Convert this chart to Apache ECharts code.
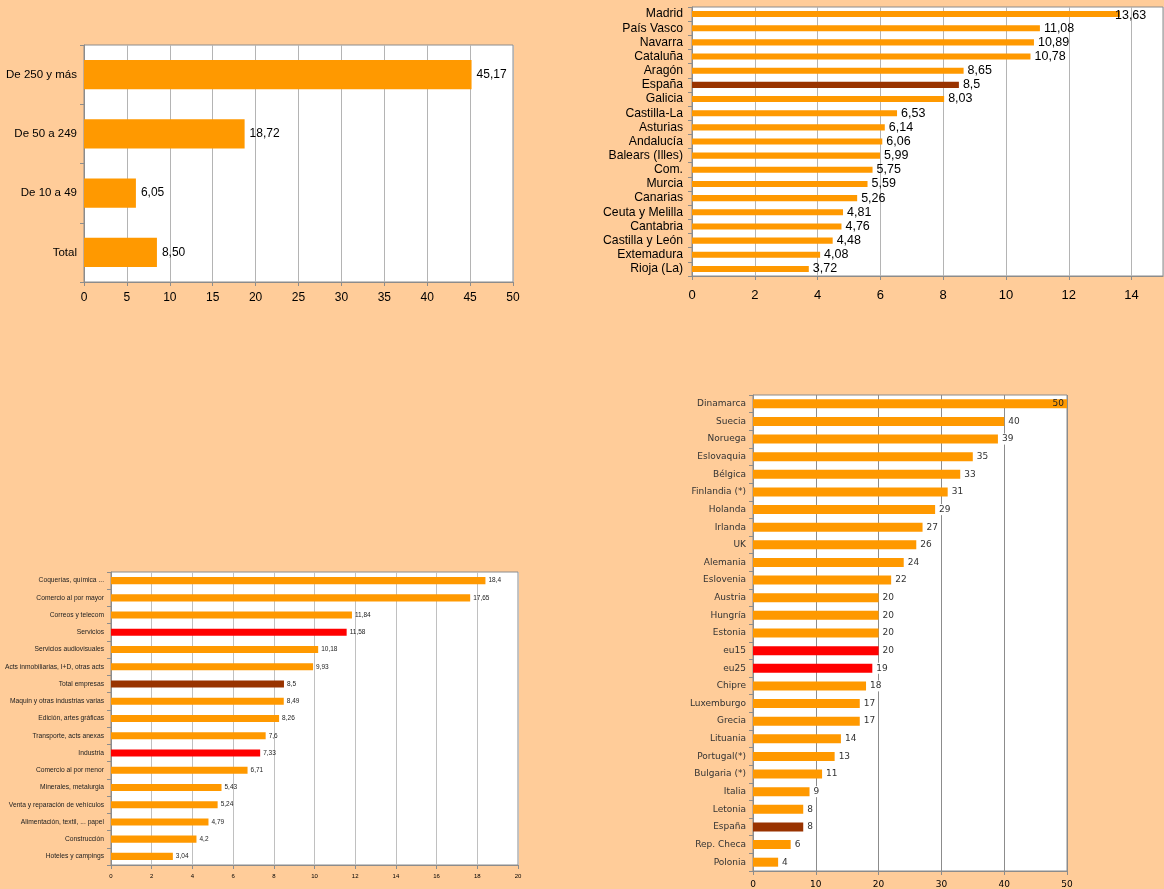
<!DOCTYPE html>
<html>
<head>
<meta charset="utf-8">
<script src="https://cdn.jsdelivr.net/npm/echarts@6/dist/echarts.min.js"></script>
<style>
html,body{margin:0;padding:0;background:#FFCC99;}
#c{width:1164px;height:889px;}
</style>
</head>
<body>
<div id="c"></div>
<script>
// Chart 1: by company size
const sizeCats = ['De 250 y más', 'De 50 a 249', 'De 10 a 49', 'Total'];
const sizeVals = [45.17, 18.72, 6.05, 8.50];

// Chart 2: by region
const regionCats = ['Madrid','País Vasco','Navarra','Cataluña','Aragón','España','Galicia','Castilla-La','Asturias','Andalucía','Balears (Illes)','Com.','Murcia','Canarias','Ceuta y Melilla','Cantabria','Castilla y León','Extemadura','Rioja (La)'];
const regionVals = [13.63,11.08,10.89,10.78,8.65,8.5,8.03,6.53,6.14,6.06,5.99,5.75,5.59,5.26,4.81,4.76,4.48,4.08,3.72];
const regionHighlight = ['España'];

// Chart 3: by sector
const sectorCats = ['Coquerías, química ...','Comercio al por mayor','Correos y telecom','Servicios','Servicios audiovisuales','Acts inmobiliarias, I+D, otras acts','Total empresas','Maquin y otras industrias varias','Edición, artes gráficas','Transporte, acts anexas','Industria','Comercio al por menor','Minerales, metalurgia','Venta y reparación de vehículos','Alimentación, textil, ... papel','Construcción','Hoteles y campings'];
const sectorVals = [18.4,17.65,11.84,11.58,10.18,9.93,8.5,8.49,8.26,7.6,7.33,6.71,5.43,5.24,4.79,4.2,3.04];
const sectorRed = ['Servicios','Industria'];
const sectorDark = ['Total empresas'];

// Chart 4: by country
const countryCats = ['Dinamarca','Suecia','Noruega','Eslovaquia','Bélgica','Finlandia (*)','Holanda','Irlanda','UK','Alemania','Eslovenia','Austria','Hungría','Estonia','eu15','eu25','Chipre','Luxemburgo','Grecia','Lituania','Portugal(*)','Bulgaria (*)','Italia','Letonia','España','Rep. Checa','Polonia'];
const countryVals = [50,40,39,35,33,31,29,27,26,24,22,20,20,20,20,19,18,17,17,14,13,11,9,8,8,6,4];
const countryRed = ['eu15','eu25'];
const countryDark = ['España'];

const ORANGE = '#FF9900', DARK = '#993300', RED = '#FF0000';
const comma = v => String(v).replace('.', ',');

function colorFor(cat, reds, darks) {
  if (darks.includes(cat)) return DARK;
  if (reds.includes(cat)) return RED;
  return ORANGE;
}

const chart = echarts.init(document.getElementById('c'), null, {renderer: 'canvas'});

const gridBase = {show: true, backgroundColor: '#FFFFFF', borderColor: '#8C8C8C', borderWidth: 1, containLabel: false};

function xAx(idx, max, interval, fs, margin, gridColor, font) {
  return {
    type: 'value', gridIndex: idx, min: 0, max: max, interval: interval,
    axisLine: {show: true, lineStyle: {color: '#8C8C8C'}},
    axisTick: {show: true, length: 4, lineStyle: {color: '#8C8C8C'}},
    splitLine: {show: true, lineStyle: {color: gridColor, width: 1}},
    axisLabel: {fontSize: fs, color: '#000', margin: margin, fontFamily: font, showMaxLabel: max % interval === 0}
  };
}
function yAx(idx, cats, fs, margin, font, color) {
  return {
    type: 'category', gridIndex: idx, data: cats, inverse: true,
    axisLine: {show: true, lineStyle: {color: '#8C8C8C'}},
    axisTick: {show: true, length: 4, alignWithLabel: false, lineStyle: {color: '#8C8C8C'}},
    splitLine: {show: false},
    axisLabel: {fontSize: fs, color: color, margin: margin, fontFamily: font, interval: 0}
  };
}

const option = {
  backgroundColor: '#FFCC99',
  animation: false,
  grid: [
    Object.assign({left: 84, top: 45, width: 429, height: 237}, gridBase),
    Object.assign({left: 692, top: 7, width: 471, height: 269}, gridBase),
    Object.assign({left: 111, top: 572, width: 407, height: 293}, gridBase),
    Object.assign({left: 753, top: 395, width: 314, height: 476}, gridBase)
  ],
  xAxis: [
    xAx(0, 50, 5, 12, 10, '#B4B4B4', 'Liberation Sans, Arial'),
    xAx(1, 15, 2, 13, 13, '#B4B4B4', 'Liberation Sans, Arial'),
    xAx(2, 20, 2, 6, 8, '#C0C0C0', 'Liberation Sans, Arial'),
    xAx(3, 50, 10, 9, 9, '#8C8C8C', 'DejaVu Sans, Verdana')
  ],
  yAxis: [
    yAx(0, sizeCats, 11.5, 7, 'Liberation Sans, Arial', '#000'),
    yAx(1, regionCats, 12.2, 9, 'Liberation Sans, Arial', '#000'),
    yAx(2, sectorCats, 6.7, 7, 'Liberation Sans, Arial', '#222'),
    yAx(3, countryCats, 9, 7, 'DejaVu Sans, Verdana', '#333')
  ],
  series: [
    {
      type: 'bar', xAxisIndex: 0, yAxisIndex: 0, barCategoryGap: '51%',
      data: sizeVals.map(v => ({value: v, itemStyle: {color: ORANGE}})),
      label: {show: true, position: 'right', distance: 5, fontSize: 12, color: '#000', fontFamily: 'Liberation Sans, Arial',
        formatter: p => p.value.toFixed(2).replace('.', ',')}
    },
    {
      type: 'bar', xAxisIndex: 1, yAxisIndex: 1, barCategoryGap: '57%',
      data: regionVals.map((v, i) => ({
        value: v,
        itemStyle: {color: colorFor(regionCats[i], [], regionHighlight)},
        label: i === 0 ? {offset: [-9, 1]} : {}
      })),
      label: {show: true, position: 'right', distance: 4, fontSize: 12.5, color: '#000', fontFamily: 'Liberation Sans, Arial',
        formatter: p => comma(p.value)}
    },
    {
      type: 'bar', xAxisIndex: 2, yAxisIndex: 2, barCategoryGap: '59%',
      data: sectorVals.map((v, i) => ({value: v, itemStyle: {color: colorFor(sectorCats[i], sectorRed, sectorDark)}})),
      label: {show: true, position: 'right', distance: 3, fontSize: 6.5, color: '#222', fontFamily: 'Liberation Sans, Arial',
        formatter: p => comma(p.value)}
    },
    {
      type: 'bar', xAxisIndex: 3, yAxisIndex: 3, barCategoryGap: '49%',
      data: countryVals.map((v, i) => ({
        value: v,
        itemStyle: {color: colorFor(countryCats[i], countryRed, countryDark)},
        label: i === 0 ? {position: 'insideRight', distance: 1, backgroundColor: 'transparent', color: '#222'} : {}
      })),
      label: {show: true, position: 'right', distance: 2, fontSize: 9, color: '#333', fontFamily: 'DejaVu Sans, Verdana',
        backgroundColor: '#FFFFFF', padding: [1, 2], formatter: p => comma(p.value)}
    }
  ]
};
chart.setOption(option);
</script>
</body>
</html>
